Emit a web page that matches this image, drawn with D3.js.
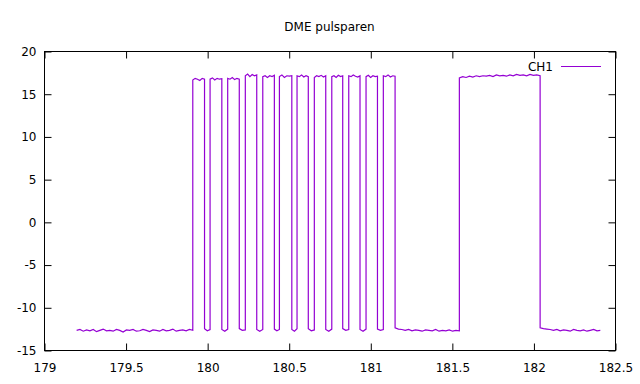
<!DOCTYPE html>
<html>
<head>
<meta charset="utf-8">
<script src="https://cdn.jsdelivr.net/npm/d3@7/dist/d3.min.js"></script>
<style>
  html, body { margin: 0; padding: 0; background: #fff; }
  svg { display: block; font-family: "DejaVu Sans", sans-serif; }
</style>
</head>
<body>
<svg id="chart" width="640" height="384"></svg>
<script>
// ---- data ----
const title = "DME pulsparen";
const seriesName = "CH1";
const xTicks = [179, 179.5, 180, 180.5, 181, 181.5, 182, 182.5];
const yTicks = [-15, -10, -5, 0, 5, 10, 15, 20];

// segment boundaries (time) – alternating low / high levels
const segStart = [179.200, 179.912, 179.984, 180.018, 180.090, 180.126, 180.197, 180.234, 180.304,
                  180.341, 180.412, 180.443, 180.519, 180.551, 180.620, 180.657, 180.727, 180.764,
                  180.831, 180.868, 180.937, 180.974, 181.044, 181.080, 181.152, 181.546, 182.041];
const segEnd   = [179.912, 179.984, 180.018, 180.090, 180.126, 180.197, 180.234, 180.304, 180.341,
                  180.412, 180.443, 180.519, 180.551, 180.620, 180.657, 180.727, 180.764, 180.831,
                  180.868, 180.937, 180.974, 181.044, 181.080, 181.152, 181.546, 182.041, 182.410];
// sampled voltages on each segment (evenly spaced within the segment)
const segSamples = [
  [-12.7,-12.6,-12.8,-12.65,-12.75,-12.6,-12.85,-12.7,-12.55,-12.75,-12.7,-12.8,-12.6,-12.7,-12.9,-12.65,-12.7,-12.6,
   -12.8,-12.75,-12.6,-12.7,-12.85,-12.65,-12.7,-12.8,-12.6,-12.75,-12.7,-12.55,-12.8,-12.7,-12.65,-12.75,-12.6,-12.7],
  [16.6,16.8,16.7,16.55,16.8,16.7],
  [-12.5,-12.75,-12.6],
  [16.7,16.85,16.6,16.8,16.7,16.75],
  [-12.6,-12.8,-12.55],
  [16.8,16.7,16.9,16.65,16.8,16.7],
  [-12.5,-12.7,-12.65],
  [17.1,17.3,17.0,17.25,17.1,17.2],
  [-12.6,-12.8,-12.6],
  [17.0,17.1,16.9,17.1,17.0,17.15],
  [-12.55,-12.75,-12.6],
  [17.0,17.2,16.9,17.1,17.05,17.1],
  [-12.6,-12.8,-12.5],
  [17.1,17.0,17.2,16.95,17.1,17.0],
  [-12.5,-12.75,-12.65],
  [16.9,17.1,17.0,17.15,16.95,17.1],
  [-12.6,-12.8,-12.55],
  [17.0,17.1,16.9,17.15,17.0,17.1],
  [-12.5,-12.7,-12.6],
  [17.1,17.0,17.2,17.05,16.95,17.1],
  [-12.6,-12.8,-12.55],
  [17.0,17.15,16.9,17.1,17.0,17.05],
  [-12.55,-12.7,-12.6],
  [17.1,17.0,17.2,16.95,17.1,17.05],
  [-12.4,-12.55,-12.6,-12.7,-12.6,-12.75,-12.65,-12.7,-12.8,-12.65,-12.7,-12.75,-12.6,-12.8,-12.7,-12.75,-12.65,-12.8,-12.7,-12.75],
  [16.85,17.0,16.9,17.05,16.95,17.1,17.0,17.1,17.05,17.15,17.0,17.2,17.1,17.15,17.05,17.2,17.1,17.25,17.15,17.2,17.1,17.25,17.15,17.2,17.1],
  [-12.4,-12.5,-12.55,-12.6,-12.7,-12.6,-12.75,-12.65,-12.7,-12.8,-12.6,-12.7,-12.75,-12.65,-12.8,-12.7,-12.6,-12.75,-12.7]
];

// ---- build the trace from the data ----
const trace = [];
segSamples.forEach((vals, i) => {
  const t0 = segStart[i], t1 = segEnd[i], n = vals.length;
  vals.forEach((v, j) => {
    const t = n === 1 ? t0 : t0 + (t1 - t0) * j / (n - 1);
    trace.push([t, v]);
  });
});

// ---- layout ----
const W = 640, H = 384;
const L = 44, R = 615, T = 51, B = 350;
const tick = 7;
const svg = d3.select("#chart");

const x = d3.scaleLinear().domain([179, 182.5]).range([L, R]);
const y = d3.scaleLinear().domain([-15, 20]).range([B, T]);

const fmt = d => String(d);

// bottom axis (inward ticks)
const gx = svg.append("g").attr("transform", `translate(0.5,${B + 0.5})`)
  .call(d3.axisBottom(x).tickValues(xTicks).tickFormat(fmt).tickSizeInner(-tick).tickSizeOuter(0).tickPadding(13));
// top mirror ticks
const gxt = svg.append("g").attr("transform", `translate(0.5,${T + 0.5})`)
  .call(d3.axisTop(x).tickValues(xTicks).tickFormat("").tickSizeInner(-tick).tickSizeOuter(0));
// left axis
const gy = svg.append("g").attr("transform", `translate(${L + 0.5},0.5)`)
  .call(d3.axisLeft(y).tickValues(yTicks).tickFormat(fmt).tickSizeInner(-tick).tickSizeOuter(0).tickPadding(8));
// right mirror ticks
const gyr = svg.append("g").attr("transform", `translate(${R + 0.5},0.5)`)
  .call(d3.axisRight(y).tickValues(yTicks).tickFormat("").tickSizeInner(-tick).tickSizeOuter(0));

[gx, gxt, gy, gyr].forEach(g => {
  g.select(".domain").remove();
  g.selectAll("line").attr("stroke", "#000").attr("stroke-width", 1);
  g.selectAll("text").attr("fill", "#000").style("font-size", "12px").style("font-family", "DejaVu Sans, sans-serif");
});

// border
svg.append("rect")
  .attr("x", L + 0.5).attr("y", T + 0.5)
  .attr("width", R - L).attr("height", B - T)
  .attr("fill", "none").attr("stroke", "#000").attr("stroke-width", 1);

// trace
svg.append("path")
  .datum(trace)
  .attr("fill", "none")
  .attr("stroke", "#9400d3")
  .attr("stroke-width", 1.2)
  .attr("stroke-linejoin", "miter")
  .attr("d", d3.line().x(d => x(d[0])).y(d => y(d[1])));

// title
svg.append("text")
  .attr("x", (L + R) / 2).attr("y", 31)
  .attr("text-anchor", "middle")
  .style("font-size", "12px")
  .attr("fill", "#000")
  .text(title);

// legend
svg.append("text")
  .attr("x", 553).attr("y", 70.5)
  .attr("text-anchor", "end")
  .style("font-size", "12px")
  .attr("fill", "#000")
  .text(seriesName);
svg.append("line")
  .attr("x1", 561).attr("x2", 601)
  .attr("y1", 66.5).attr("y2", 66.5)
  .attr("stroke", "#9400d3").attr("stroke-width", 1);
</script>
</body>
</html>
